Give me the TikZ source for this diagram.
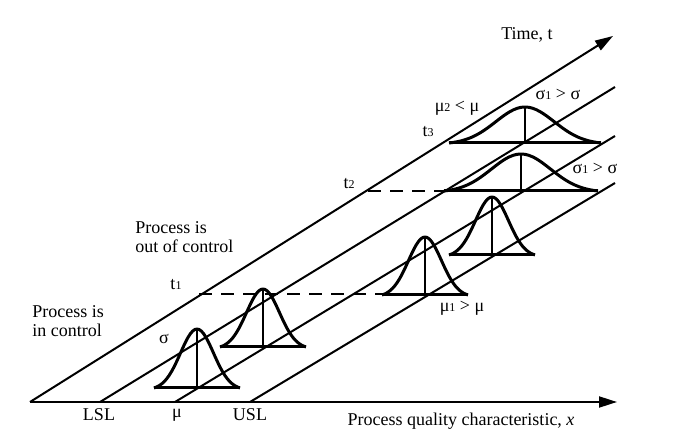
\documentclass[tikz,border=0pt]{standalone}
\usepackage{fontspec}
\setmainfont{Liberation Serif}
\usetikzlibrary{arrows.meta}
\tikzset{
  axis/.style={line width=1pt, -{Triangle[length=9pt, width=5.5pt]}},
  tline/.style={line width=1pt},
  bell/.style={line width=1.5pt, line join=round},
  meanline/.style={line width=1pt},
  tdash/.style={line width=1pt, dash pattern=on 6.5pt off 4.5pt},
  lbl/.style={font=\fontsize{9}{9.5}\selectfont, inner sep=0pt},
}
\newcommand{\ix}[1]{{\fontsize{6}{7}\selectfont #1}}
% bell curve: centre x, base y, half width, height
\newcommand{\bellcurve}[4]{%
  \draw[bell] plot[domain=-1:1, samples=41, smooth]
    ({#1+(\x)*#3}, {#2-#4*(exp(-3.4*(\x)*(\x))-exp(-3.4))/(1-exp(-3.4))});
  \draw[bell] (#1-#3,#2) -- (#1+#3,#2);
  \draw[meanline] (#1,#2) -- (#1,#2-#4);
}

\begin{document}
\begin{tikzpicture}[x=0.5pt, y=-0.5pt]
  \useasboundingbox (0,0) rectangle (681,438);

  % axes and spec lines
  \coordinate (o0) at (30,402);
  \coordinate (o1) at (100,402);
  \coordinate (o2) at (175,402);
  \coordinate (o3) at (250,402);
  \coordinate (xend) at (617,402);
  \coordinate (tend) at (613,36);
  \coordinate (e1) at (615,87);
  \coordinate (e2) at (615,136);
  \coordinate (e3) at (615,183);

  \draw[axis] (o0) -- (xend);
  \draw[axis] (o0) -- (tend);
  \draw[tline] (o1) -- (e1);
  \draw[tline] (o2) -- (e2);
  \draw[tline] (o3) -- (e3);

  % time markers
  \coordinate (t1a) at (199,294);
  \coordinate (t1b) at (383,294);
  \coordinate (t2a) at (368,191);
  \coordinate (t2b) at (444,191);
  \draw[tdash] (t1a) -- (t1b);
  \draw[tdash] (t2a) -- (t2b);

  % distributions
  \bellcurve{197}{388}{43}{59}
  \bellcurve{263}{347}{43}{58}
  \bellcurve{425}{295}{43}{58}
  \bellcurve{492}{255}{43}{58}
  \bellcurve{521}{191}{77}{37}
  \bellcurve{525}{143}{76}{36}

  % labels
  \node[lbl] (time) at (527,35) {Time, t};
  \node[lbl] (qual) at (461,421) {Process quality characteristic, \textit{x}};
  \node[lbl] (lsl) at (99,415) {LSL};
  \node[lbl] (mu) at (177,415) {μ};
  \node[lbl] (usl) at (250,415) {USL};
  \node[lbl, align=left, anchor=west] (inctl) at (32,321) {Process is\\in control};
  \node[lbl, align=left, anchor=west] (outctl) at (135,237) {Process is\\out of control};
  \node[lbl] (tone) at (176,285) {t\ix{1}};
  \node[lbl] (ttwo) at (349,184) {t\ix{2}};
  \node[lbl] (tthree) at (428,132) {t\ix{3}};
  \node[lbl] (sig) at (164,339) {σ};
  \node[lbl] (muone) at (462,308) {μ\ix{1} > μ};
  \node[lbl] (mutwo) at (457,108) {μ\ix{2} < μ};
  \node[lbl] (sigup) at (558,94) {σ\ix{1} > σ};
  \node[lbl] (siglo) at (595,168) {σ\ix{1} > σ};
\end{tikzpicture}
\end{document}
